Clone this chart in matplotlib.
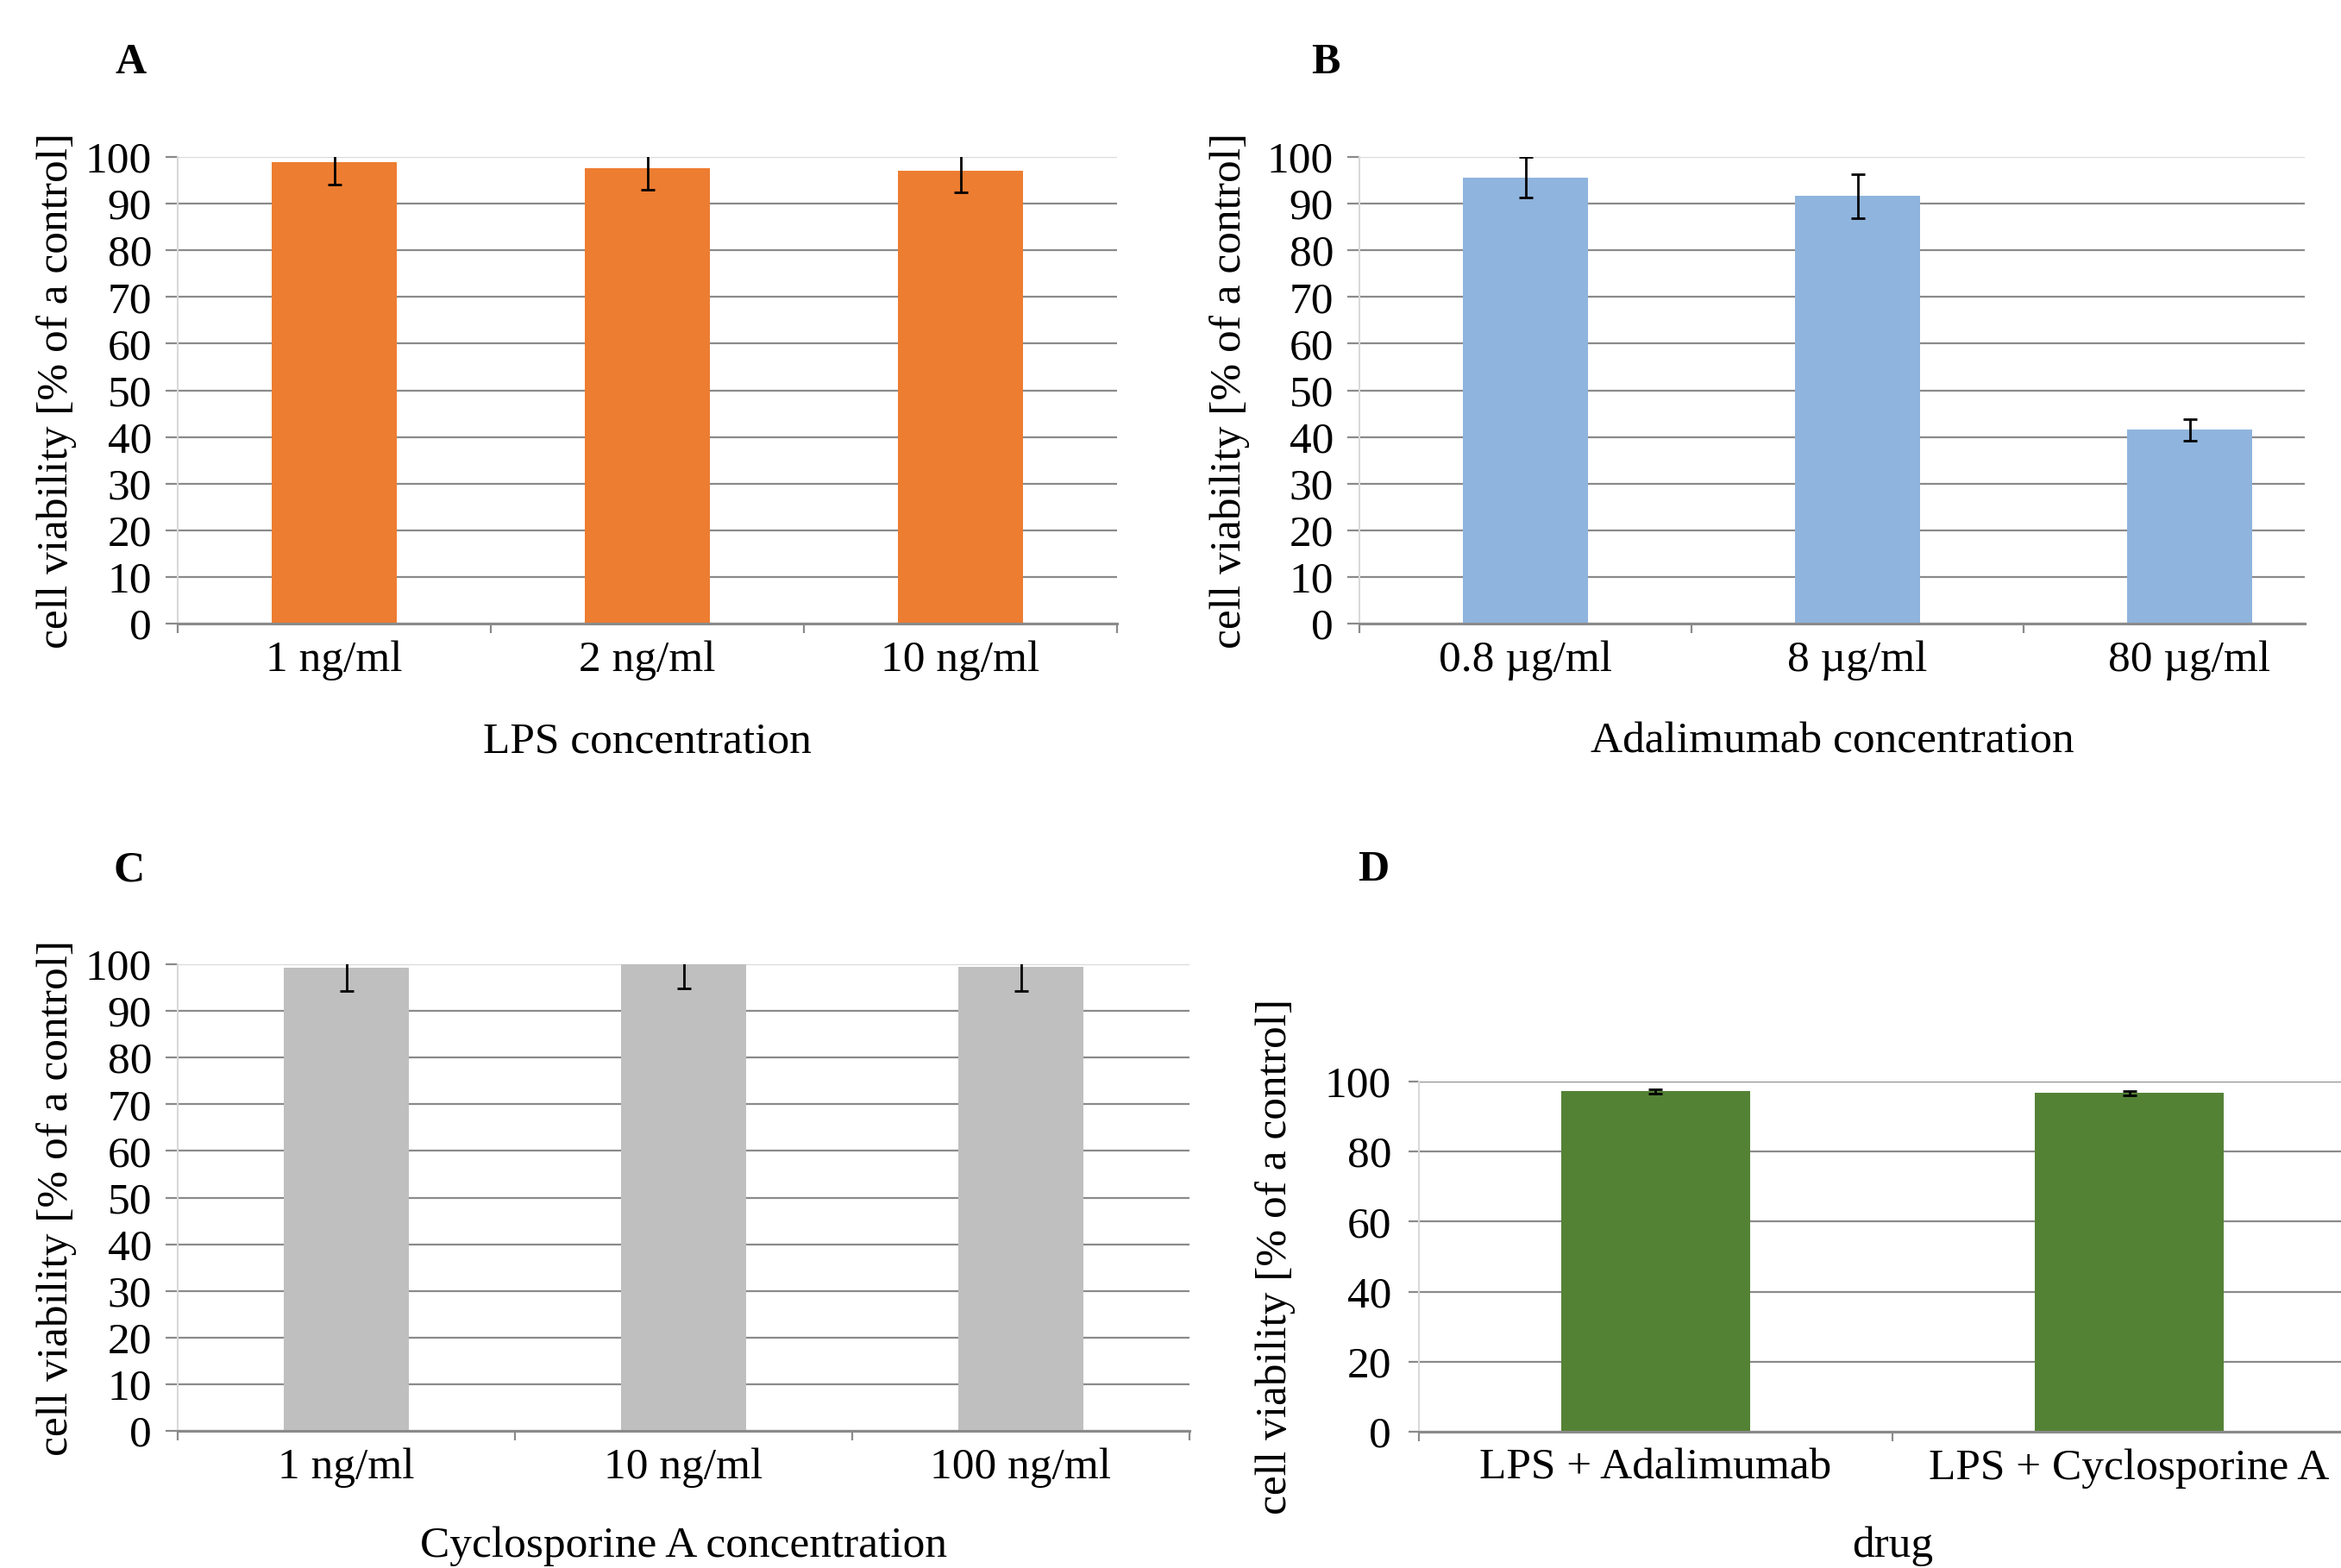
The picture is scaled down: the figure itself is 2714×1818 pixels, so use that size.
import numpy as np
import matplotlib
matplotlib.use("Agg")
import matplotlib.pyplot as plt
from matplotlib.ticker import FixedLocator

plt.rcParams['font.family'] = ['Liberation Serif', 'DejaVu Serif']

# panel A - LPS
lps_labels = ["1 ng/ml", "2 ng/ml", "10 ng/ml"]
lps_vals = [98.8, 97.6, 97.0]
lps_err = [4.7, 4.7, 4.6]

# panel B - Adalimumab
ada_labels = ["0.8 µg/ml", "8 µg/ml", "80 µg/ml"]
ada_vals = [95.6, 91.6, 41.5]
ada_err = [4.35, 4.65, 2.25]

# panel C - Cyclosporine A
cyc_labels = ["1 ng/ml", "10 ng/ml", "100 ng/ml"]
cyc_vals = [99.3, 100.0, 99.4]
cyc_err = [5.1, 5.1, 5.2]

# panel D - drug combos
drug_labels = ["LPS + Adalimumab", "LPS + Cyclosporine A"]
drug_vals = [97.2, 96.7]
drug_err = [0.7, 0.6]

W, H = 2714, 1818
fig = plt.figure(figsize=(W / 100, H / 100), dpi=100)

GRID = '#8a8a8a'
LIGHT = '#d9d9d9'
FS = 37


def panel(left, top, right, bottom, ncat_span, labels, vals, err, color, bw,
          ystep, letter, letter_xy, xlabel, xlab_y, ylab_x, light_top=True,
          ypad=11.5, tlen=10):
    ax = fig.add_axes([left / W, 1 - bottom / H, (right - left) / W, (bottom - top) / H])
    x = np.arange(len(vals))
    ax.bar(x, vals, bw, color=color, yerr=err, zorder=2,
           error_kw=dict(ecolor='black', elinewidth=2.0, capsize=6, capthick=2.0, zorder=3))
    ax.set_xlim(-0.5, -0.5 + ncat_span)
    ax.set_ylim(0, 100)
    ax.set_yticks(np.arange(0, 101, ystep))
    ax.set_axisbelow(True)
    ax.yaxis.grid(True, color=GRID, lw=1.6)
    for s in ['top', 'right']:
        ax.spines[s].set_visible(False)
    ax.spines['left'].set_color(LIGHT)
    ax.spines['left'].set_linewidth(1.5)
    ax.spines['bottom'].set_color(GRID)
    ax.spines['bottom'].set_linewidth(2.2)
    ax.spines['bottom'].set_zorder(4)
    ax.set_xticks(x)
    ax.set_xticklabels(labels)
    ax.xaxis.set_minor_locator(FixedLocator(np.arange(-0.5, len(vals) + 0.5, 1.0)))
    ax.tick_params(axis='x', which='major', length=0, pad=14, labelsize=FS)
    ax.tick_params(axis='x', which='minor', length=8, width=1.6, color=GRID, direction='out')
    ax.tick_params(axis='y', length=tlen, width=1.6, color=GRID, pad=ypad, labelsize=FS)
    if light_top:
        ax.get_ygridlines()[-1].set_color(LIGHT)
        ax.yaxis.get_major_ticks()[-1].tick1line.set_color(LIGHT)
    ax.set_ylabel("cell viability [% of a control]", fontsize=FS)
    ax.yaxis.set_label_coords(ylab_x, 0.5)
    ax.set_xlabel(xlabel, fontsize=FS, va='center')
    ax.xaxis.set_label_coords(0.5, xlab_y)
    fig.text(letter_xy[0] / W, 1 - letter_xy[1] / H, letter, fontsize=36,
             fontweight='bold', ha='center', va='center')
    return ax


panel(206, 182, 1295, 723, 3.0, lps_labels, lps_vals, lps_err, '#ED7D31', 0.40,
      10, 'A', (152, 73), 'LPS concentration', -0.253, -0.107)
panel(1576, 182, 2672, 723, (2672 - 1576) / 385, ada_labels, ada_vals, ada_err, '#8FB4DD', 0.375,
      10, 'B', (1537, 73), 'Adalimumab concentration', -0.253, -0.116)
panel(206, 1118, 1379, 1659, 3.0, cyc_labels, cyc_vals, cyc_err, '#BFBFBF', 0.37,
      10, 'C', (150, 1009), 'Cyclosporine A concentration', -0.247, -0.100)
panel(1645, 1254, 1645 + 2 * 549, 1660, 2.0, drug_labels, drug_vals, drug_err, '#548235', 0.40,
      20, 'D', (1592, 1009), 'drug', -0.326, -0.13, light_top=False, ypad=14, tlen=9)

fig.savefig("out.png", dpi=100)
